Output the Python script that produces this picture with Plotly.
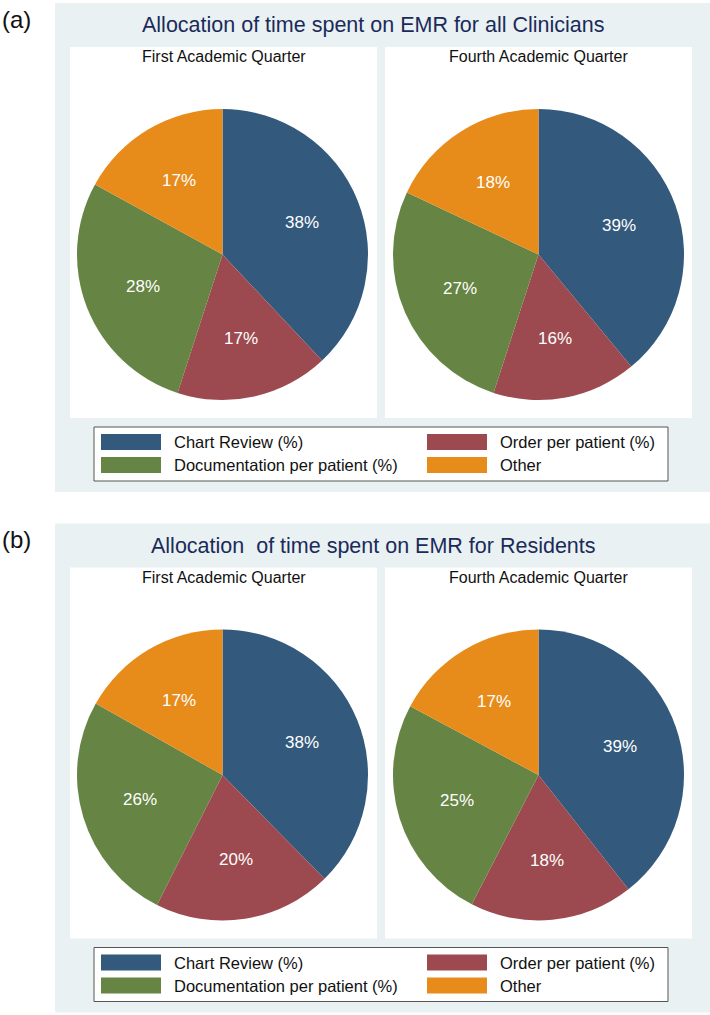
import math
import plotly.graph_objects as go

W, H = 710, 1015

categories = ["Chart Review (%)", "Order per patient (%)", "Documentation per patient (%)", "Other"]
colors = ["#33597d", "#9c4a50", "#668443", "#e78c1b"]

all_first = [38, 17, 28, 17]
all_fourth = [39, 16, 27, 18]
res_first = [38, 20, 26, 17]
res_fourth = [39, 18, 25, 17]

panel_labels = ["(a)", "(b)"]
panel_titles = ["Allocation of time spent on EMR for all Clinicians",
                "Allocation  of time spent on EMR for Residents"]
sub_titles = ["First Academic Quarter", "Fourth Academic Quarter"]

FONT = "Arial, Liberation Sans, sans-serif"


def px(x):
    return x / W


def py(y):
    return 1 - y / H


fig = go.Figure()
shapes = []
annotations = []

panel_data = [(all_first, all_fourth), (res_first, res_fourth)]
offsets = [0, 520.5]

for p, (vals_l, vals_r) in enumerate(panel_data):
    dy = offsets[p]
    # panel background
    shapes.append(dict(type="rect", xref="paper", yref="paper",
                       x0=px(55), x1=px(712), y0=py(492 + dy), y1=py(3 + dy),
                       fillcolor="#eaf1f3", line=dict(width=0), layer="below"))
    # white plot regions
    for (x0, x1) in [(70, 377), (385, 692)]:
        shapes.append(dict(type="rect", xref="paper", yref="paper",
                           x0=px(x0), x1=px(x1), y0=py(418 + dy), y1=py(47 + dy),
                           fillcolor="white", line=dict(width=0), layer="below"))
    # legend box
    shapes.append(dict(type="rect", xref="paper", yref="paper",
                       x0=px(94), x1=px(668), y0=py(481 + dy), y1=py(427 + dy),
                       fillcolor="white", line=dict(color="#555555", width=1), layer="below"))
    # legend entries
    pos = [(101, 434), (427, 434), (101, 457), (427, 457)]
    for i, cat in enumerate(categories):
        lx, ly = pos[i]
        shapes.append(dict(type="rect", xref="paper", yref="paper",
                           x0=px(lx), x1=px(lx + 60), y0=py(ly + 16 + dy), y1=py(ly + dy),
                           fillcolor=colors[i], line=dict(width=0)))
        annotations.append(dict(x=px(lx + 71), y=py(ly + 8 + dy), xref="paper", yref="paper",
                                text=cat, showarrow=False, xanchor="left", yanchor="middle",
                                font=dict(family=FONT, size=16.5, color="#111111")))
    # panel label
    annotations.append(dict(x=px(0), y=py(19 + dy), xref="paper", yref="paper",
                            text=panel_labels[p], showarrow=False, xanchor="left", yanchor="middle",
                            font=dict(family=FONT, size=24, color="#111111")))
    # title
    annotations.append(dict(x=px(373), y=py(25 + dy), xref="paper", yref="paper",
                            text=panel_titles[p], showarrow=False, xanchor="center", yanchor="middle",
                            font=dict(family=FONT, size=21.5, color="#1a2b5a")))
    # subtitles
    for (cx, st) in zip([223.5, 538.5], sub_titles):
        annotations.append(dict(x=px(cx), y=py(57 + dy), xref="paper", yref="paper",
                                text=st, showarrow=False, xanchor="center", yanchor="middle",
                                font=dict(family=FONT, size=16, color="#111111")))
    # pies
    for (cx, vals) in zip([222.5, 538.5], [vals_l, vals_r]):
        r = 145.5
        cy = 254.5 + dy
        fig.add_trace(go.Pie(
            labels=categories, values=vals, sort=False, direction="clockwise", rotation=0,
            marker=dict(colors=colors, line=dict(width=0)),
            textinfo="none",
            hoverinfo="label+value", showlegend=False,
            domain=dict(x=[px(cx - r), px(cx + r)], y=[py(cy + r), py(cy - r)]),
        ))
        # slice labels placed at 0.59 of the radius along each slice's mid-angle
        total = sum(vals)
        cum = 0
        for v in vals:
            ang = 2 * math.pi * (cum + v / 2) / total
            cum += v
            lx = cx + 0.59 * r * math.sin(ang)
            ly = cy - 0.59 * r * math.cos(ang)
            annotations.append(dict(x=px(lx), y=py(ly), xref="paper", yref="paper",
                                    text=f"{v}%", showarrow=False, xanchor="center", yanchor="middle",
                                    font=dict(family=FONT, size=17, color="white")))

fig.update_layout(
    width=W, height=H, margin=dict(l=0, r=0, t=0, b=0),
    paper_bgcolor="white", plot_bgcolor="white",
    shapes=shapes, annotations=annotations, showlegend=False,
)

fig.write_html("out.html", config={"displayModeBar": False},
               post_script="document.body.style.margin='0';document.body.style.overflow='hidden';")
